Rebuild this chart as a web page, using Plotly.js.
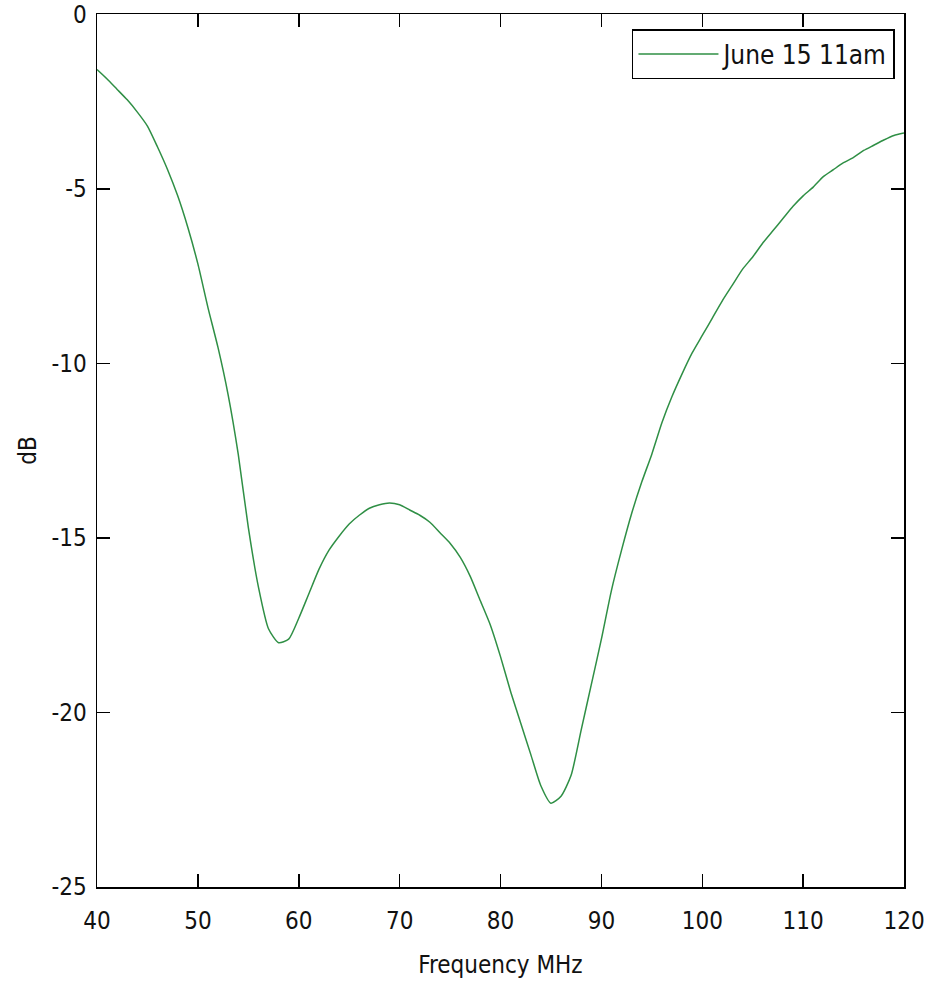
<!DOCTYPE html>
<html>
<head>
<meta charset="utf-8">
<script src="https://cdn.plot.ly/plotly-3.0.1.min.js"></script>
<style>html,body{margin:0;padding:0;background:#fff;}#chart{width:942px;height:986px;}</style>
</head>
<body>
<div id="chart"></div>
<script>
const freqMHz = [40,41,42,43,44,45,46,47,48,49,50,51,52,53,54,55,56,57,58,59,60,61,62,63,64,65,66,67,68,69,70,71,72,73,74,75,76,77,78,79,80,81,82,83,84,85,86,87,88,89,90,91,92,93,94,95,96,97,98,99,100,101,102,103,104,105,106,107,108,109,110,111,112,113,114,115,116,117,118,119,120];
const dB = [-1.58,-1.85,-2.15,-2.45,-2.8,-3.2,-3.8,-4.45,-5.2,-6.1,-7.15,-8.4,-9.55,-10.9,-12.6,-14.7,-16.4,-17.6,-18.0,-17.9,-17.3,-16.6,-15.9,-15.35,-14.95,-14.6,-14.35,-14.15,-14.05,-14.0,-14.05,-14.2,-14.35,-14.55,-14.85,-15.15,-15.55,-16.1,-16.8,-17.5,-18.4,-19.4,-20.3,-21.2,-22.1,-22.6,-22.4,-21.8,-20.5,-19.2,-17.9,-16.5,-15.35,-14.3,-13.4,-12.6,-11.7,-10.95,-10.3,-9.7,-9.2,-8.7,-8.2,-7.75,-7.3,-6.95,-6.55,-6.2,-5.85,-5.5,-5.2,-4.95,-4.65,-4.45,-4.25,-4.1,-3.9,-3.75,-3.6,-3.47,-3.4];
const seriesName = 'June 15 11am';
const xTicks = [40,50,60,70,80,90,100,110,120];
const yTicks = [-25,-20,-15,-10,-5,0];

const fontFam = '"Liberation Sans Narrow", "DejaVu Sans Condensed", "Liberation Sans", sans-serif';
const fs = 24;

const trace = {
  x: freqMHz, y: dB, type: 'scatter', mode: 'lines', name: seriesName,
  line: {color: '#2f8f45', width: 1.5, shape: 'spline', smoothing: 0.6}
};

const axisCommon = {
  showline: true, linecolor: '#000', linewidth: 1.5, mirror: 'ticks',
  ticks: 'inside', ticklen: 13, tickwidth: 1.5, tickcolor: '#000',
  showgrid: false, zeroline: false,
  tickfont: {family: fontFam, size: fs, color: '#111'}
};

const layout = {
  width: 942, height: 986,
  margin: {l: 97, r: 38, t: 14, b: 99, pad: 0},
  paper_bgcolor: '#fff', plot_bgcolor: '#fff',
  font: {family: fontFam, size: fs, color: '#111'},
  showlegend: true,
  xaxis: Object.assign({}, axisCommon, {
    range: [40, 120], tickvals: xTicks, ticktext: xTicks.map(String),
    ticklabelstandoff: 12,
    title: {text: 'Frequency MHz', font: {family: fontFam, size: fs, color: '#111'}, standoff: 22}
  }),
  yaxis: Object.assign({}, axisCommon, {
    range: [-25, 0.01], tickvals: yTicks, ticktext: yTicks.map(String),
    ticklabelstandoff: 4,
    title: {text: 'dB', font: {family: fontFam, size: fs, color: '#111'}, standoff: 8}
  }),
  legend: {
    x: 0.9888, y: 0.9828, xanchor: 'right', yanchor: 'top',
    bordercolor: '#000', borderwidth: 1.5, bgcolor: '#fff',
    font: {family: fontFam, size: 26, color: '#111'},
    itemwidth: 80
  }
};

Plotly.newPlot('chart', [trace], layout, {displayModeBar: false, staticPlot: true});
</script>
</body>
</html>
